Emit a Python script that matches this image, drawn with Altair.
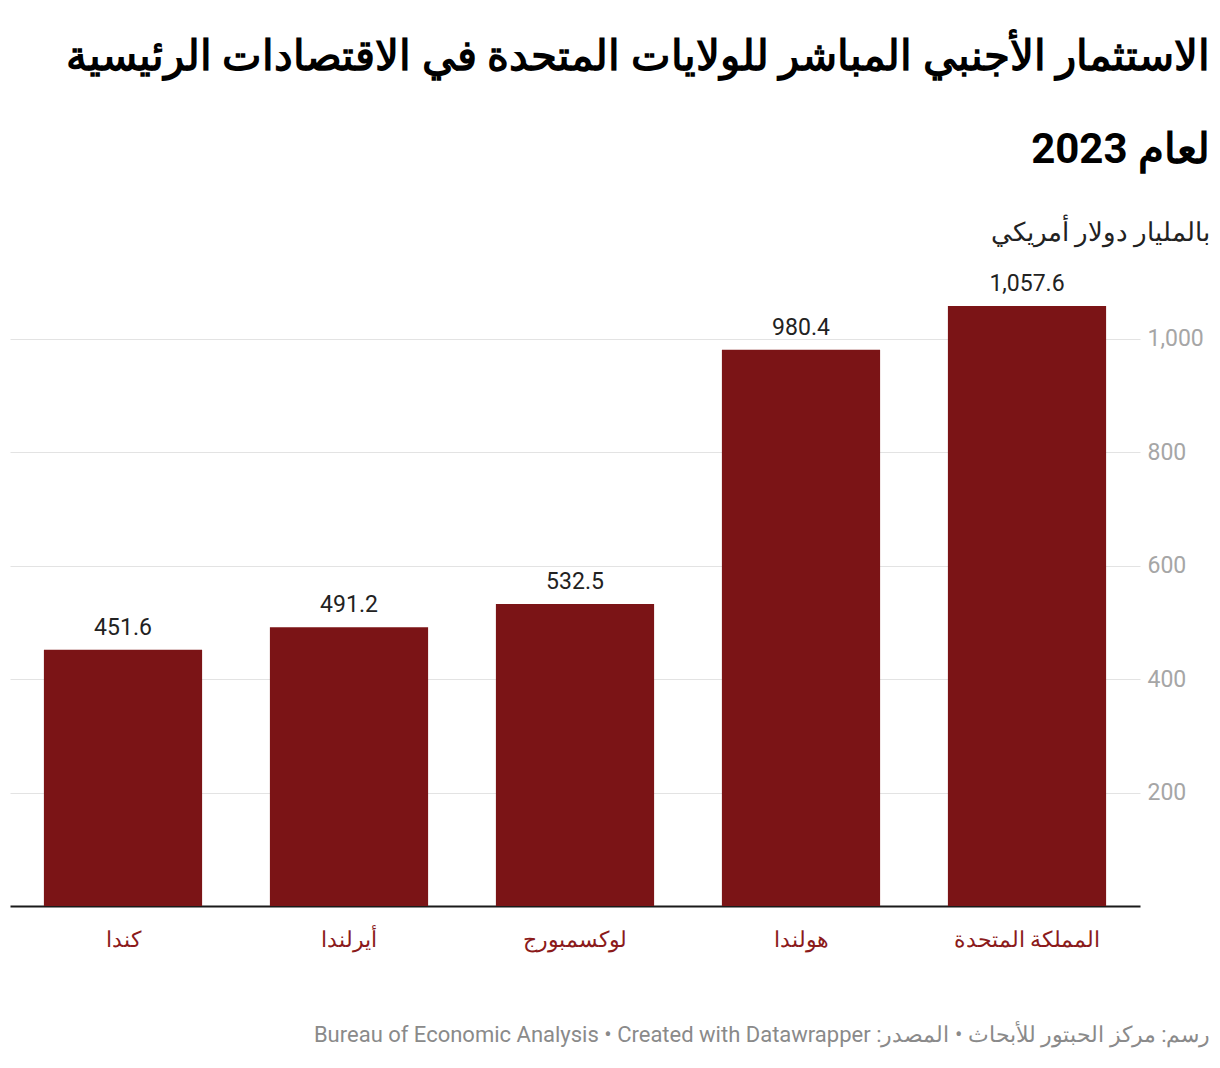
import altair as alt
import pandas as pd

countries = ["كندا", "أيرلندا", "لوكسمبورج", "هولندا", "المملكة المتحدة"]
values = [451.6, 491.2, 532.5, 980.4, 1057.6]
y_ticks = [200, 400, 600, 800, 1000]

title_lines = ["الاستثمار الأجنبي المباشر للولايات المتحدة في الاقتصادات الرئيسية", "لعام 2023"]
unit_label = "بالمليار دولار أمريكي"
footer = "Bureau of Economic Analysis  • Created with Datawrapper رسم: مركز الحبتور للأبحاث • المصدر:\u200f"

df = pd.DataFrame({"country": countries, "value": values})

BAR = "#7b1416"
FONT = "Roboto"

x = alt.X("country:N", sort=countries,
          scale=alt.Scale(paddingInner=0.3, paddingOuter=0.15),
          axis=alt.Axis(title=footer, titleX=1200, titleY=128, titleAlign="right",
                        titleBaseline="middle", titleFontSize=22, titleFontWeight="normal",
                        titleColor="#8a8a8a", titleFont=FONT,
                        labelAngle=0, labelFontSize=22, labelColor="#8b1a1a", labelFont=FONT,
                        labelPadding=23, ticks=False, domainColor="#1a1a1a", domainWidth=2,
                        grid=False))
y = alt.Y("value:Q", scale=alt.Scale(domain=[0, 1070], nice=False),
          axis=alt.Axis(orient="right", values=y_ticks, format=",d", title=unit_label,
                        titleX=70, titleY=-67, titleAngle=0, titleAlign="right",
                        titleBaseline="middle", titleFontSize=26, titleFontWeight="normal",
                        titleColor="#222222", titleFont=FONT,
                        labelFontSize=23, labelColor="#a6a6a6", labelFont=FONT,
                        labelPadding=7, ticks=False, domain=False,
                        gridColor="#e3e3e3", gridWidth=1))

bars = alt.Chart(df).mark_bar(color=BAR).encode(x=x, y=y)
labels = alt.Chart(df).mark_text(dy=-10, baseline="bottom", fontSize=23, color="#222222",
                                 font=FONT).encode(
    x=alt.X("country:N", sort=countries),
    y="value:Q",
    text=alt.Text("value:Q", format=",.1f"))

chart = (bars + labels).properties(
    width=1130, height=607,
    background="white",
    title=alt.TitleParams(title_lines, anchor="end", frame="group", dx=70, dy=0, fontSize=42,
                          fontWeight="bold", font=FONT, color="#000000", lineHeight=93,
                          offset=5, baseline="bottom"),
    autosize=alt.AutoSizeParams(type="none"),
    padding={"left": 2, "top": 291, "right": 72, "bottom": 150},
).configure_view(stroke=None)

chart.save("out.html", embed_options={"renderer": "svg", "actions": False})
